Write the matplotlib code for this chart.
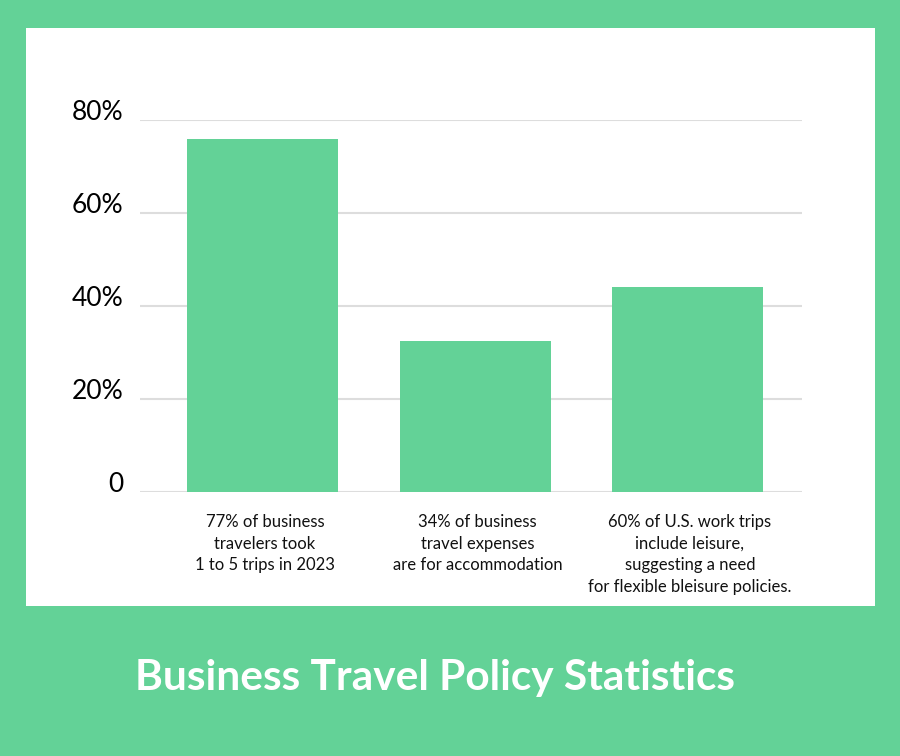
import matplotlib.pyplot as plt
from matplotlib.patches import Rectangle

plt.rcParams["font.family"] = ["Lato", "DejaVu Sans"]

GREEN = "#63d297"

labels = [
    "77% of business\ntravelers took\n1 to 5 trips in 2023",
    "34% of business\ntravel expenses\nare for accommodation",
    "60% of U.S. work trips\ninclude leisure,\nsuggesting a need\nfor flexible bleisure policies.",
]
values = [76, 32.5, 44]
yticks = [0, 20, 40, 60, 80]
ytick_labels = ["0", "20%", "40%", "60%", "80%"]

fig = plt.figure(figsize=(9, 7.56), dpi=100, facecolor=GREEN)
fig.patches.append(Rectangle((26 / 900, 1 - 606 / 756), 849 / 900, 578 / 756,
                             transform=fig.transFigure, facecolor="white",
                             edgecolor="none", zorder=-1))

ax = fig.add_axes([140 / 900, 1 - 492 / 756, 662 / 900, 372 / 756])
ax.set_facecolor("none")
x = range(len(values))
ax.bar(x, values, width=0.712, color=GREEN, zorder=3)
ax.set_xlim(-0.578, 2.538)
ax.set_ylim(0, 80)
ax.set_yticks(yticks)
ax.set_yticklabels(ytick_labels, fontsize=19, va="baseline")
ax.tick_params(axis="y", length=0, pad=12)
ax.set_xticks([])
ax.grid(axis="y", color="#dddddd", linewidth=1.5, zorder=0)
for s in ax.spines.values():
    s.set_visible(False)
for lab in ax.get_yticklabels():
    lab.set_clip_on(False)

for i, lab in enumerate(labels):
    ax.annotate(lab, xy=(i + 0.01, 0), xytext=(0, -16), textcoords="offset points",
                ha="center", va="top", fontsize=12, linespacing=1.43,
                color="#111111")

fig.text(435 / 900, 1 - 678 / 756, "Business Travel Policy Statistics",
         ha="center", va="center", color="white", fontsize=30.5, fontweight="bold")

fig.savefig("out.png", dpi=100, facecolor=GREEN)
